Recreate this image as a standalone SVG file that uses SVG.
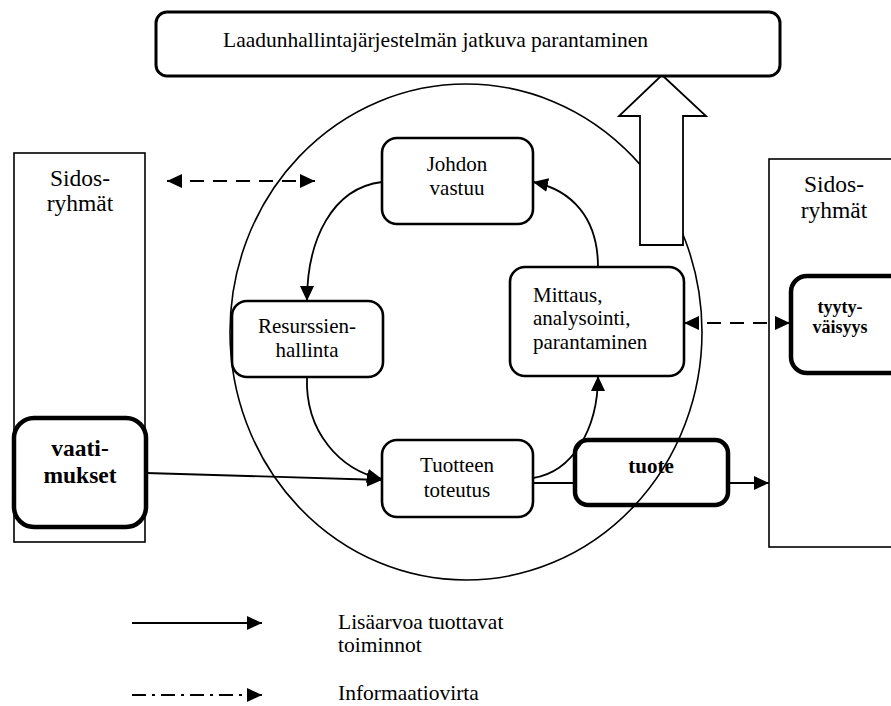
<svg xmlns="http://www.w3.org/2000/svg" width="891" height="706" viewBox="0 0 891 706">
  <defs>
    <marker id="head" markerUnits="userSpaceOnUse" markerWidth="16" markerHeight="14" refX="15" refY="7" orient="auto-start-reverse">
      <path d="M0,0 L15,7 L0,14 z" fill="#000"/>
    </marker>
    <style>
      text { font-family: "Liberation Serif", "Times New Roman", serif; fill: #000; }
      .t21 { font-size: 21px; }
      .t23 { font-size: 23.5px; }
      .big { font-size: 21.5px; }
      .bold { font-weight: bold; }
      .mid { text-anchor: middle; }
      .box { fill: #fff; stroke: #000; stroke-width: 2.6; }
      .heavy { fill: #fff; stroke: #000; stroke-width: 4.5; }
      .plain { fill: #fff; stroke: #000; stroke-width: 1.6; }
      .flow { fill: none; stroke: #000; stroke-width: 1.8; }
      .info { fill: none; stroke: #000; stroke-width: 1.8; stroke-dasharray: 14 9; }
      .dashdot { fill: none; stroke: #000; stroke-width: 1.8; stroke-dasharray: 14 6 3 6; }
    </style>
  </defs>

  <rect width="891" height="706" fill="#fff"/>

  <!-- stakeholder panels -->
  <g id="sidosryhmat-vasen">
    <rect class="plain" x="14" y="153" width="131" height="389"/>
    <text class="t23 mid" x="80" y="186">Sidos-</text>
    <text class="t23 mid" x="80" y="211">ryhmät</text>
  </g>
  <g id="sidosryhmat-oikea">
    <rect class="plain" x="769" y="159" width="140" height="388"/>
    <text class="t23 mid" x="834" y="192">Sidos-</text>
    <text class="t23 mid" x="834" y="218">ryhmät</text>
  </g>

  <!-- process ring -->
  <g id="prosessirengas">
    <ellipse cx="466" cy="332" rx="236" ry="248" fill="none" stroke="#000" stroke-width="1.6"/>
  </g>

  <!-- continuous improvement arrow -->
  <g id="parannusnuoli">
    <polygon points="662,75 706,116 683,116 683,245 640,245 640,116 619,116" fill="#fff" stroke="#000" stroke-width="1.8" stroke-linejoin="miter"/>
  </g>

  <g id="laadunhallinta">
    <rect x="156" y="12" width="624" height="64" rx="11" fill="#fff" stroke="#000" stroke-width="3"/>
    <text class="big" x="223" y="47">Laadunhallintajärjestelmän jatkuva parantaminen</text>
  </g>

  <!-- connectors -->
  <g id="yhteydet">
    <path class="info" d="M167,181 L315,181" marker-start="url(#head)" marker-end="url(#head)"/>
    <path class="info" d="M684,323 L790,323" marker-start="url(#head)" marker-end="url(#head)"/>
    <path class="flow" d="M382,182 C332,188 307,240 307,301" marker-end="url(#head)"/>
    <path class="flow" d="M307,377 C305,432 340,470 382,479" marker-end="url(#head)"/>
    <path class="flow" d="M533,478 C572,472 598,430 598,376" marker-end="url(#head)"/>
    <path class="flow" d="M598,267 C598,218 572,190 533,182" marker-end="url(#head)"/>
    <path class="flow" d="M146,473 L382,480" marker-end="url(#head)"/>
    <path class="flow" d="M533,483 L575,483"/>
    <path class="flow" d="M728,483 L769,483" marker-end="url(#head)"/>
  </g>

  <!-- process nodes -->
  <g id="johdon-vastuu">
    <rect class="box" x="382" y="138" width="151" height="86" rx="15"/>
    <text class="t21 mid" x="457" y="171">Johdon</text>
    <text class="t21 mid" x="457" y="195">vastuu</text>
  </g>
  <g id="resurssienhallinta">
    <rect class="box" x="232" y="301" width="151" height="76" rx="15"/>
    <text class="t21 mid" x="307" y="333">Resurssien-</text>
    <text class="t21 mid" x="307" y="357">hallinta</text>
  </g>
  <g id="mittaus">
    <rect class="box" x="510" y="267" width="174" height="109" rx="15"/>
    <text class="t21" x="533" y="302">Mittaus,</text>
    <text class="t21" x="533" y="325">analysointi,</text>
    <text class="t21" x="533" y="349">parantaminen</text>
  </g>
  <g id="tuotteen-toteutus">
    <rect class="box" x="382" y="440" width="151" height="77" rx="15"/>
    <text class="t21 mid" x="457" y="472">Tuotteen</text>
    <text class="t21 mid" x="457" y="497">toteutus</text>
  </g>
  <g id="vaatimukset">
    <rect class="heavy" x="14" y="418" width="132" height="109" rx="20"/>
    <text class="t23 bold mid" x="80" y="456">vaati-</text>
    <text class="t23 bold mid" x="80" y="483">mukset</text>
  </g>
  <g id="tuote">
    <rect class="heavy" x="575" y="440" width="153" height="65" rx="13" fill="none" style="fill:none"/>
    <text class="t21 bold mid" x="651" y="473">tuote</text>
  </g>
  <g id="tyytyvaisyys">
    <rect class="heavy" x="791" y="276" width="120" height="97" rx="16"/>
    <text class="bold mid" style="font-size:18px" x="840" y="313">tyyty-</text>
    <text class="bold mid" style="font-size:18px" x="840" y="333">väisyys</text>
  </g>

  <!-- legend -->
  <g id="selite">
    <path class="flow" d="M132,623 L262,623" marker-end="url(#head)"/>
    <text class="big" x="338" y="629">Lisäarvoa tuottavat</text>
    <text class="big" x="338" y="652">toiminnot</text>
    <path class="dashdot" d="M132,695 L262,695" marker-end="url(#head)"/>
    <text class="big" x="338" y="700">Informaatiovirta</text>
  </g>
</svg>
